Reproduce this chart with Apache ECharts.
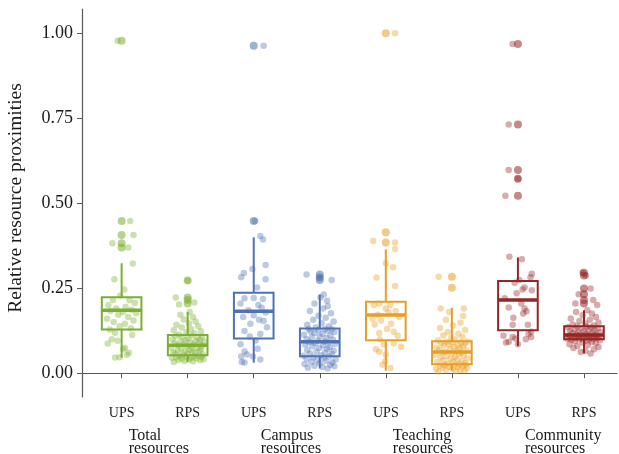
<!DOCTYPE html>
<html>
<head>
<meta charset="utf-8">
<script src="https://cdn.jsdelivr.net/npm/echarts@6/dist/echarts.min.js"></script>
<style>
  html, body { margin: 0; padding: 0; background: #fff; }
  #chart { width: 619px; height: 454px; }
</style>
</head>
<body>
<div id="chart"></div>
<script>
// categories along x, and the four resource groups under them
const categories = ["UPS", "RPS", "UPS", "RPS", "UPS", "RPS", "UPS", "RPS"];
const groupNames = ["Total\nresources", "Campus\nresources", "Teaching\nresources", "Community\nresources"];
const yTicks = [0, 0.25, 0.5, 0.75, 1];

// box stats per category: [lower whisker, Q1, median, Q3, upper whisker]
const boxStats = [
	[0.046, 0.128, 0.185, 0.223, 0.323],
	[0.033, 0.053, 0.082, 0.112, 0.18],
	[0.031, 0.102, 0.182, 0.236, 0.399],
	[0.014, 0.05, 0.092, 0.131, 0.231],
	[0.007, 0.097, 0.171, 0.21, 0.364],
	[0.008, 0.026, 0.062, 0.094, 0.192],
	[0.08, 0.126, 0.215, 0.271, 0.34],
	[0.058, 0.1, 0.112, 0.138, 0.185]
];

// outliers drawn by the box plots
const outliers = [
	[0.977, 0.447, 0.406, 0.382, 0.369],
	[0.272, 0.222, 0.215, 0.205],
	[0.962, 0.447],
	[0.29, 0.281, 0.274],
	[0.999, 0.414, 0.384],
	[0.283, 0.251],
	[0.967, 0.731, 0.597, 0.571, 0.521],
	[0.295, 0.287, 0.249, 0.232, 0.215, 0.205]
];

// jittered observations: [horizontal jitter, value]
const upsTotal = [
	[-0.06, 0.977], [0.13, 0.447], [0.18, 0.406], [-0.14, 0.382], [0.1, 0.369], [0.17, 0.322], [-0.11, 0.276], [0.04, 0.246],
	[-0.13, 0.215], [0.12, 0.214], [-0.02, 0.228], [0.2, 0.206], [-0.2, 0.2], [0.06, 0.195], [-0.08, 0.19], [0.15, 0.186],
	[-0.17, 0.183], [0.02, 0.18], [0.22, 0.176], [-0.05, 0.172], [0.1, 0.165], [-0.22, 0.16], [0.18, 0.155], [-0.12, 0.15],
	[0.05, 0.145], [-0.03, 0.138], [0.14, 0.132], [-0.18, 0.128], [-0.1, 0.119], [0.16, 0.112], [-0.15, 0.1], [-0.21, 0.087],
	[0.05, 0.075], [0.02, 0.07], [0.08, 0.054], [-0.1, 0.046], [-0.03, 0.047], [0.11, 0.06], [-0.06, 0.095]
];
const rpsTotal = [
	[-0.21, 0.033], [0.08, 0.035], [-0.05, 0.036], [0.19, 0.038], [-0.14, 0.039], [0.02, 0.04], [0.24, 0.041], [-0.09, 0.043],
	[0.13, 0.044], [-0.24, 0.045], [0.05, 0.046], [-0.17, 0.047], [0.21, 0.048], [-0.02, 0.049], [0.1, 0.05], [-0.12, 0.051],
	[0.16, 0.052], [-0.07, 0.054], [0.23, 0.055], [-0.19, 0.057], [0.0, 0.058], [0.11, 0.06], [-0.22, 0.061], [0.07, 0.063],
	[-0.04, 0.064], [0.18, 0.066], [-0.15, 0.067], [0.03, 0.069], [0.2, 0.07], [-0.1, 0.072], [0.14, 0.074], [-0.25, 0.075],
	[0.06, 0.077], [-0.01, 0.079], [0.22, 0.081], [-0.16, 0.083], [0.09, 0.084], [-0.06, 0.086], [0.17, 0.087], [-0.2, 0.089],
	[0.04, 0.09], [0.25, 0.092], [-0.11, 0.093], [0.12, 0.095], [-0.03, 0.097], [0.19, 0.098], [-0.23, 0.1], [0.01, 0.102],
	[0.15, 0.104], [-0.08, 0.106], [0.22, 0.107], [-0.18, 0.109], [0.06, 0.111], [-0.13, 0.114], [0.1, 0.117], [-0.02, 0.12],
	[0.2, 0.123], [-0.21, 0.126], [0.05, 0.13], [-0.09, 0.134], [0.16, 0.138], [-0.17, 0.142], [0.02, 0.147], [0.12, 0.152],
	[-0.06, 0.158], [0.08, 0.165], [-0.11, 0.172], [0.03, 0.18], [-0.18, 0.222], [-0.13, 0.202], [0.1, 0.208], [0.0, 0.272]
];
const upsCampus = [
	[0.15, 0.962], [0.02, 0.447], [0.1, 0.403], [0.14, 0.393], [0.18, 0.318], [-0.02, 0.306], [-0.15, 0.294], [-0.19, 0.282],
	[0.18, 0.276], [0.05, 0.252], [-0.14, 0.22], [0.0, 0.221], [0.14, 0.218], [0.07, 0.2], [-0.2, 0.205], [0.12, 0.192],
	[-0.08, 0.185], [0.18, 0.178], [0.0, 0.17], [-0.16, 0.165], [0.08, 0.157], [0.15, 0.153], [-0.05, 0.145], [0.2, 0.135],
	[-0.14, 0.124], [-0.06, 0.108], [0.1, 0.115], [0.03, 0.096], [-0.2, 0.085], [-0.14, 0.064], [-0.01, 0.049], [-0.19, 0.049],
	[0.1, 0.04], [-0.18, 0.033], [-0.14, 0.031], [-0.1, 0.055], [0.06, 0.072]
];
const rpsCampus = [
	[0.12, 0.014], [-0.18, 0.016], [0.04, 0.018], [0.22, 0.02], [-0.08, 0.022], [0.16, 0.025], [-0.23, 0.027], [0.0, 0.029],
	[0.19, 0.031], [-0.13, 0.033], [0.09, 0.036], [-0.04, 0.038], [0.24, 0.04], [-0.2, 0.043], [0.06, 0.045], [-0.1, 0.047],
	[0.14, 0.049], [-0.25, 0.051], [0.02, 0.053], [0.18, 0.056], [-0.15, 0.058], [0.08, 0.061], [-0.05, 0.063], [0.21, 0.066],
	[-0.19, 0.068], [0.11, 0.071], [-0.01, 0.074], [0.15, 0.076], [-0.11, 0.079], [0.05, 0.081], [-0.22, 0.084], [0.23, 0.086],
	[-0.07, 0.088], [0.13, 0.09], [-0.16, 0.091], [0.07, 0.093], [-0.03, 0.095], [0.2, 0.098], [-0.2, 0.1], [0.1, 0.103],
	[-0.12, 0.106], [0.0, 0.108], [0.16, 0.111], [-0.24, 0.113], [0.04, 0.116], [-0.08, 0.118], [0.22, 0.121], [-0.14, 0.123],
	[0.12, 0.125], [-0.02, 0.127], [0.18, 0.129], [-0.17, 0.13], [0.08, 0.13], [-0.06, 0.134], [0.14, 0.138], [-0.19, 0.142],
	[0.03, 0.147], [0.21, 0.152], [-0.1, 0.157], [0.09, 0.163], [-0.02, 0.169], [0.17, 0.176], [-0.15, 0.183], [0.05, 0.19],
	[0.12, 0.197], [-0.08, 0.205], [0.11, 0.213], [0.01, 0.222], [0.06, 0.231], [-0.2, 0.29], [0.18, 0.274], [0.0, 0.281]
];
const upsTeaching = [
	[0.14, 0.999], [-0.19, 0.388], [0.14, 0.384], [0.14, 0.365], [0.0, 0.323], [0.11, 0.311], [-0.14, 0.281], [0.14, 0.256],
	[0.07, 0.2], [0.0, 0.19], [-0.1, 0.205], [0.04, 0.178], [-0.12, 0.172], [0.15, 0.183], [0.2, 0.165], [-0.17, 0.143],
	[-0.07, 0.155], [0.02, 0.13], [-0.1, 0.118], [0.12, 0.122], [-0.2, 0.16], [0.08, 0.145], [-0.09, 0.1], [-0.03, 0.085],
	[0.12, 0.088], [0.23, 0.078], [-0.1, 0.063], [0.0, 0.055], [-0.15, 0.07], [-0.01, 0.035], [0.07, 0.015], [-0.05, 0.025],
	[0.18, 0.11], [-0.18, 0.2]
];
const rpsTeaching = [
	[-0.2, 0.005], [0.06, 0.006], [0.19, 0.008], [-0.09, 0.009], [0.13, 0.01], [-0.24, 0.012], [0.01, 0.013], [0.23, 0.015],
	[-0.14, 0.016], [0.09, 0.018], [-0.04, 0.019], [0.17, 0.021], [-0.18, 0.022], [0.04, 0.023], [0.21, 0.024], [-0.11, 0.025],
	[0.11, 0.026], [-0.06, 0.028], [0.2, 0.03], [-0.22, 0.032], [0.02, 0.034], [0.15, 0.036], [-0.13, 0.038], [0.08, 0.04],
	[-0.02, 0.042], [0.24, 0.044], [-0.17, 0.046], [0.05, 0.048], [-0.08, 0.05], [0.18, 0.052], [-0.25, 0.054], [0.11, 0.056],
	[0.0, 0.058], [-0.15, 0.06], [0.14, 0.061], [-0.1, 0.063], [0.07, 0.065], [0.22, 0.067], [-0.19, 0.069], [-0.03, 0.071],
	[0.12, 0.073], [-0.23, 0.075], [0.03, 0.077], [0.17, 0.079], [-0.12, 0.081], [0.09, 0.083], [-0.05, 0.085], [0.2, 0.087],
	[-0.16, 0.088], [0.01, 0.09], [0.14, 0.091], [-0.08, 0.092], [0.24, 0.093], [-0.21, 0.096], [0.05, 0.099], [-0.01, 0.103],
	[0.16, 0.107], [-0.13, 0.111], [0.1, 0.116], [-0.06, 0.121], [0.2, 0.127], [-0.18, 0.133], [0.02, 0.14], [0.13, 0.148],
	[-0.09, 0.157], [0.17, 0.168], [-0.04, 0.18], [0.18, 0.19], [-0.17, 0.19], [-0.2, 0.283]
];
const upsCommunity = [
	[-0.08, 0.967], [-0.14, 0.731], [-0.14, 0.597], [0.0, 0.571], [-0.19, 0.521], [-0.13, 0.342], [0.06, 0.335], [0.21, 0.292],
	[0.19, 0.282], [-0.05, 0.266], [0.02, 0.274], [0.1, 0.252], [0.07, 0.246], [0.21, 0.244], [-0.02, 0.235], [-0.14, 0.193],
	[0.1, 0.19], [0.13, 0.182], [0.05, 0.205], [-0.07, 0.163], [-0.08, 0.142], [0.15, 0.142], [-0.22, 0.11], [-0.08, 0.106],
	[0.2, 0.122], [0.2, 0.106], [0.16, 0.115], [-0.14, 0.092], [-0.04, 0.102], [0.12, 0.1], [-0.18, 0.09], [0.0, 0.085],
	[0.08, 0.175], [-0.2, 0.22]
];
const rpsCommunity = [
	[0.1, 0.058], [-0.05, 0.062], [0.02, 0.066], [0.15, 0.07], [-0.16, 0.074], [0.22, 0.077], [-0.1, 0.08], [0.06, 0.083],
	[-0.22, 0.085], [0.18, 0.088], [-0.02, 0.09], [0.12, 0.092], [-0.14, 0.094], [0.04, 0.096], [0.24, 0.097], [-0.19, 0.098],
	[-0.07, 0.099], [0.08, 0.1], [-0.25, 0.101], [0.14, 0.101], [-0.03, 0.102], [0.2, 0.103], [-0.12, 0.104], [0.01, 0.104],
	[-0.2, 0.105], [0.11, 0.106], [-0.08, 0.107], [0.23, 0.107], [-0.15, 0.108], [0.05, 0.109], [0.17, 0.11], [-0.01, 0.11],
	[-0.23, 0.111], [0.09, 0.111], [-0.11, 0.112], [0.19, 0.113], [-0.06, 0.114], [0.03, 0.116], [-0.18, 0.117], [0.13, 0.118],
	[0.25, 0.12], [-0.09, 0.121], [0.0, 0.123], [-0.21, 0.124], [0.16, 0.126], [0.07, 0.127], [-0.14, 0.129], [0.21, 0.131],
	[-0.04, 0.132], [0.11, 0.134], [-0.24, 0.135], [0.04, 0.137], [-0.1, 0.138], [0.15, 0.14], [-0.17, 0.143], [0.02, 0.146],
	[0.22, 0.149], [-0.07, 0.153], [0.09, 0.157], [-0.2, 0.161], [0.18, 0.165], [-0.02, 0.17], [0.12, 0.175], [-0.12, 0.18],
	[0.05, 0.185], [0.2, 0.2], [-0.02, 0.295], [0.03, 0.287], [0.1, 0.249], [-0.08, 0.232], [0.14, 0.215], [-0.13, 0.205]
];

const jitterData = [upsTotal, rpsTotal, upsCampus, rpsCampus, upsTeaching, rpsTeaching, upsCommunity, rpsCommunity];
const groupColors = ["#7CAF2F", "#7CAF2F", "#4E72B2", "#4E72B2", "#E89E25", "#E89E25", "#962626", "#962626"];

const FONT = "Liberation Serif";
const AXIS_COLOR = "#5a5a5a";

const chart = echarts.init(document.getElementById("chart"));

function renderBox(params, api) {
	const x = api.value(0);
	const half = api.size([0.3, 0])[0];
	const lo = api.coord([x, api.value(1)]);
	const q1 = api.coord([x, api.value(2)]);
	const md = api.coord([x, api.value(3)]);
	const q3 = api.coord([x, api.value(4)]);
	const hi = api.coord([x, api.value(5)]);
	const color = groupColors[params.dataIndex];
	const line = { stroke: color, lineWidth: 2, fill: null };
	return {
		type: "group",
		children: [
			{ type: "line", shape: { x1: hi[0], y1: hi[1], x2: q3[0], y2: q3[1] }, style: line },
			{ type: "line", shape: { x1: q1[0], y1: q1[1], x2: lo[0], y2: lo[1] }, style: line },
			{ type: "rect", shape: { x: q3[0] - half, y: q3[1], width: half * 2, height: q1[1] - q3[1] }, style: line },
			{ type: "line", shape: { x1: md[0] - half, y1: md[1], x2: md[0] + half, y2: md[1] }, style: { stroke: color, lineWidth: 3.5 } }
		]
	};
}

const series = [];
jitterData.forEach((pts, i) => {
	series.push({
		type: "scatter",
		data: pts.map(p => [i + 1 + p[0], p[1]]),
		symbolSize: 6.5,
		itemStyle: { color: groupColors[i], opacity: 0.38 },
		silent: true,
		z: 2
	});
	series.push({
		type: "scatter",
		data: outliers[i].map(v => [i + 1, v]),
		symbolSize: 8,
		itemStyle: { color: groupColors[i], opacity: 0.55 },
		silent: true,
		z: 3
	});
});
series.push({
	type: "custom",
	renderItem: renderBox,
	data: boxStats.map((s, i) => [i + 1].concat(s)),
	encode: { x: 0, y: [1, 2, 3, 4, 5] },
	silent: true,
	z: 4
});

const option = {
	animation: false,
	backgroundColor: "#fff",
	grid: { left: 82, right: 2, top: 9, bottom: 57, outerBoundsMode: "none", containLabel: false },
	xAxis: [
		{
			type: "value",
			min: 0.4,
			max: 8.5,
			position: "bottom",
			splitLine: { show: false },
			axisLine: { show: true, lineStyle: { color: AXIS_COLOR, width: 1.2 } },
			axisTick: { show: true, customValues: [1, 2, 3, 4, 5, 6, 7, 8], length: 5, lineStyle: { color: AXIS_COLOR } },
			axisLabel: {
				customValues: [1, 2, 3, 4, 5, 6, 7, 8],
				formatter: v => categories[Math.round(v) - 1],
				fontFamily: FONT,
				fontSize: 14,
				color: "#1a1a1a",
				margin: 9
			}
		},
		{
			type: "value",
			min: 0.4,
			max: 8.5,
			position: "bottom",
			splitLine: { show: false },
			axisLine: { show: false },
			axisTick: { show: false },
			axisLabel: {
				customValues: [1, 3, 5, 7],
				formatter: v => groupNames[(Math.round(v) - 1) / 2],
				fontFamily: FONT,
				fontSize: 16,
				lineHeight: 13,
				color: "#1a1a1a",
				align: "left",
				padding: [0, 0, 0, 7],
				margin: 32
			}
		}
	],
	yAxis: {
		type: "value",
		min: -0.07,
		max: 1.07,
		name: "Relative resource proximities",
		nameLocation: "middle",
		nameGap: 56,
		nameTextStyle: { fontFamily: FONT, fontSize: 19.5, color: "#1a1a1a", padding: [0, 0, 0, 10] },
		splitLine: { show: false },
		axisLine: { show: true, lineStyle: { color: AXIS_COLOR, width: 1.2 } },
		axisTick: { show: true, customValues: yTicks, length: 5, lineStyle: { color: AXIS_COLOR } },
		axisLabel: {
			customValues: yTicks,
			formatter: v => v.toFixed(2),
			fontFamily: FONT,
			fontSize: 18,
			color: "#1a1a1a",
			margin: 9
		}
	},
	series: series
};

chart.setOption(option);
</script>
</body>
</html>
